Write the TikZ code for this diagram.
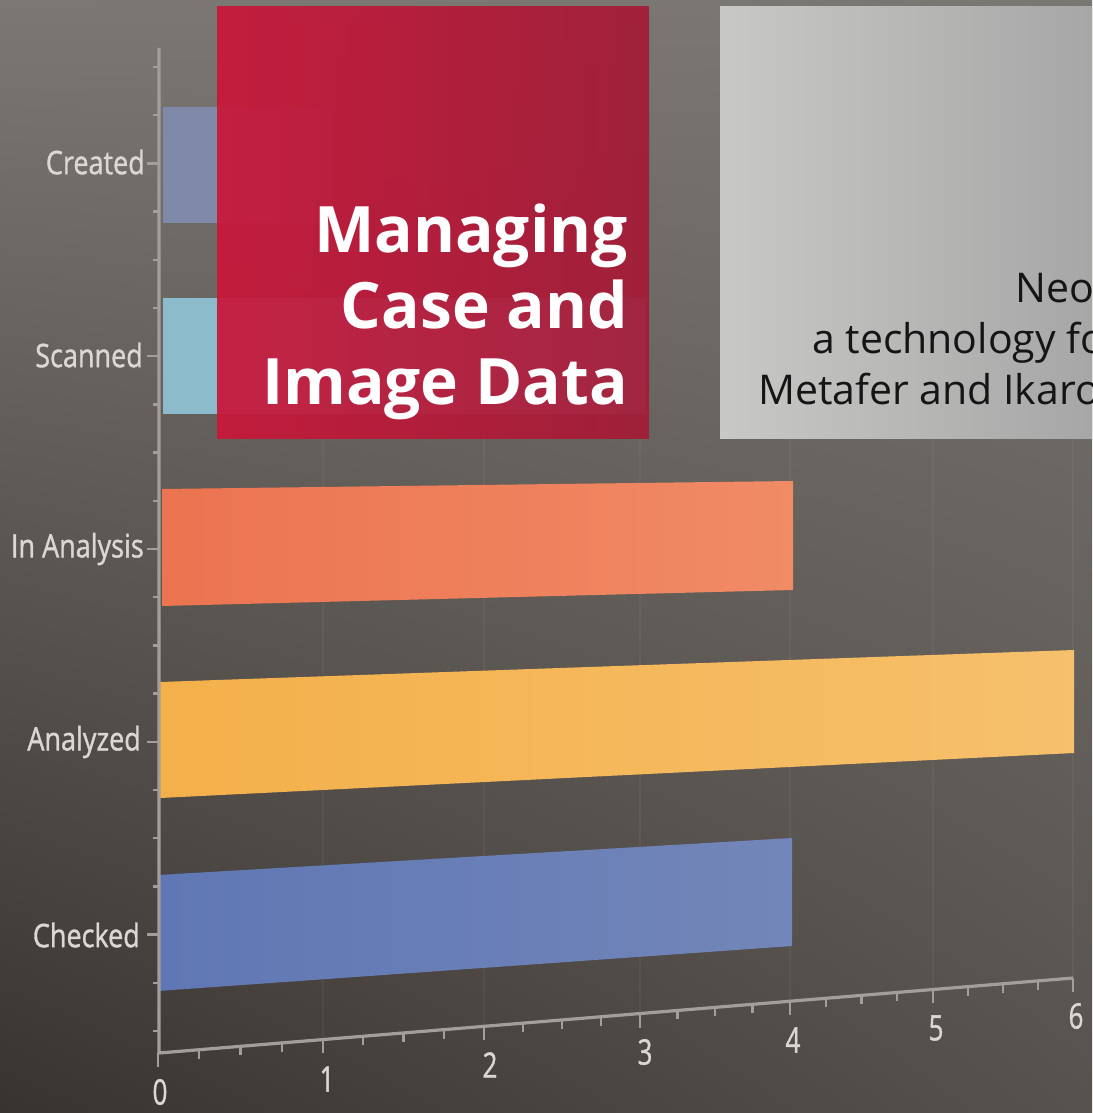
\documentclass[tikz,border=0pt]{standalone}
\usepackage{fontspec}
\usetikzlibrary{shadings}
\setmainfont{Open Sans}
\newfontfamily\labfont{Open Sans}[FakeBold=1.2]
\definecolor{bgTL}{HTML}{7B7773}
\definecolor{bgTR}{HTML}{7A7672}
\definecolor{bgBL}{HTML}{38332F}
\definecolor{bgBR}{HTML}{57524E}
\definecolor{axisgray}{HTML}{A29F9B}
\definecolor{labgray}{HTML}{DAD7D4}
\definecolor{redL}{HTML}{C9173A}
\definecolor{redR}{HTML}{A31B37}
\definecolor{grayL}{HTML}{C8C8C6}
\definecolor{grayR}{HTML}{A6A6A6}
\definecolor{createdC}{HTML}{7F89A8}
\definecolor{scannedC}{HTML}{8CBCCB}
\definecolor{inanaL}{HTML}{EC7450}
\definecolor{inanaR}{HTML}{F08B66}
\definecolor{anaL}{HTML}{F4B04A}
\definecolor{anaR}{HTML}{F6C06C}
\definecolor{chkL}{HTML}{5F77B4}
\definecolor{chkR}{HTML}{7386B9}
\definecolor{darktext}{HTML}{151515}
\begin{document}
\begin{tikzpicture}[x=1pt,y=-1pt,
  axisline/.style={draw=axisgray, line width=3.2pt},
  tickmark/.style={draw=axisgray, line width=2.4pt},
  gridline/.style={draw=white, opacity=0.045, line width=1.5pt},
  ylab/.style={text=labgray, font=\labfont\fontsize{27}{30}\selectfont, anchor=east, inner sep=0pt, yscale=1.2},
  xlab/.style={text=labgray, font=\labfont\fontsize{26}{30}\selectfont, inner sep=0pt, yscale=1.35},
  bigtitle/.style={text=white, font=\bfseries\fontsize{64}{77}\selectfont, anchor=base east, inner sep=0pt},
  subtitle/.style={text=darktext, font=\fontsize{41}{51}\selectfont, anchor=base west, inner sep=0pt}]
\useasboundingbox (0,0) rectangle (1092,1113);
\begin{scope}
\clip (0,0) rectangle (1092,1113);
% background
\shade[upper left=bgTL, upper right=bgTR, lower left=bgBL, lower right=bgBR] (0,0) rectangle (1092,1113);
% grid lines
\foreach \gx/\gy in {323/1040, 484/1027, 640/1014, 790/1001, 933/990, 1073/978}
  \draw[gridline] (\gx,48) -- (\gx,\gy);
% bars
\fill[createdC] (163,107) -- (332,107) -- (332,223) -- (163,223) -- cycle;
\fill[scannedC] (163,298) -- (646,298) -- (646,414) -- (163,414) -- cycle;
\shade[left color=inanaL, right color=inanaR] (162,489) -- (793,481) -- (793,590) -- (162,606) -- cycle;
\shade[left color=anaL, right color=anaR] (160,682) -- (1074,650) -- (1074,753) -- (160,798) -- cycle;
\shade[left color=chkL, right color=chkR] (158,875) -- (792,838) -- (792,946) -- (158,991) -- cycle;
% axes
\coordinate (ytop) at (159,48);
\coordinate (origin) at (159,1053);
\coordinate (xend) at (1073,978);
\draw[axisline] (ytop) -- (origin) -- (xend);
\foreach \k in {0,...,20} {
  \pgfmathsetmacro\ty{67+48.2*\k}
  \draw[tickmark] (153,\ty) -- (159,\ty);
}
\foreach \k in {2,6,10,14,18} {
  \pgfmathsetmacro\ty{67+48.2*\k}
  \draw[tickmark] (147,\ty) -- (159,\ty);
}
% x axis ticks
\foreach \a/\b in {158/323, 323/484, 484/640, 640/790, 790/933, 933/1073} {
  \foreach \q in {1,2,3} {
    \pgfmathsetmacro\xx{\a+(\b-\a)*\q/4}
    \pgfmathsetmacro\yy{1053-(\xx-158)/915*75}
    \draw[tickmark] (\xx,\yy) -- (\xx,\yy+9);
  }
}
\foreach \xx in {158,323,484,640,790,933,1073} {
  \pgfmathsetmacro\yy{1053-(\xx-158)/915*75}
  \draw[tickmark] (\xx,\yy) -- (\xx,\yy+14);
}
% y labels
\node[ylab] (lcreated) at (145,162) {Created};
\node[ylab] (lscanned) at (143,355) {Scanned};
\node[ylab] (linana) at (144,549) {In Analysis};
\node[ylab] (lana) at (141,742) {Analyzed};
\node[ylab] (lchk) at (140,935) {Checked};
% x labels
\node[xlab] (x0) at (160,1092) {0};
\node[xlab] (x1) at (327,1079) {1};
\node[xlab] (x2) at (490,1065) {2};
\node[xlab] (x3) at (645,1052) {3};
\node[xlab] (x4) at (793,1040) {4};
\node[xlab] (x5) at (936,1028) {5};
\node[xlab] (x6) at (1076,1016) {6};
% red title box
\shade[left color=redL, right color=redR, opacity=0.93] (217,7) rectangle (649,438);
\node[bigtitle] (t1) at (628,252) {Managing};
\node[bigtitle] (t2) at (628,328) {Case and};
\node[bigtitle] (t3) at (628,404) {Image Data};
% gray box
\shade[left color=grayL, right color=grayR] (720,7) rectangle (1100,438);
\node[subtitle] (s1) at (1015,302) {Neo};
\node[subtitle] (s2) at (812,353) {a technology fo};
\node[subtitle] (s3) at (758,404) {Metafer and Ikaro};
\end{scope}
\end{tikzpicture}
\end{document}
